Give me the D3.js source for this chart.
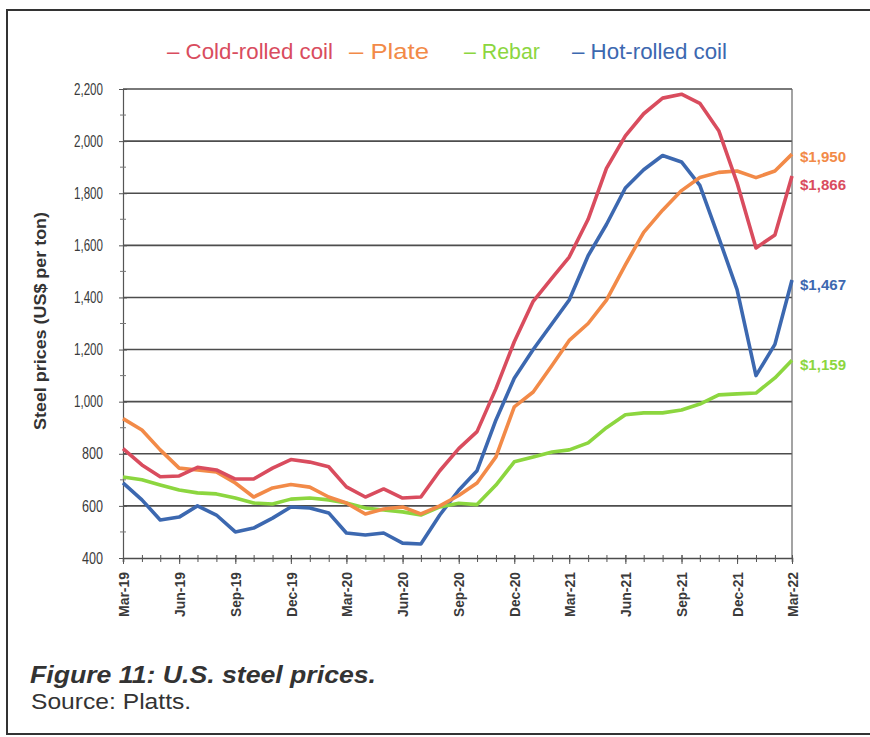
<!doctype html>
<html>
  <head>
    <script src="https://cdnjs.cloudflare.com/ajax/libs/d3/7.8.5/d3.min.js"></script>
  <style>
    body { margin: 0; background: #fff; }
    svg { display: block; }
    .domain { stroke: #555; }
  </style>
  </head>
  <body>
    <svg id="chart" width="870" height="737"></svg>
    <script>
      // monthly prices, Mar-19 .. Mar-22 (US$ per ton)
      var months = d3.timeMonth.range(new Date(2019, 2, 1), new Date(2022, 3, 1));
      var coldRolled = [820, 757, 712, 715, 748, 738, 703, 703, 745, 778, 768, 750, 673, 634, 665, 630, 634, 735, 820,
        885, 1050, 1230, 1385, 1475, 1555, 1700, 1895, 2020, 2105, 2165, 2180, 2145, 2040, 1840, 1590, 1640, 1866];
      var plate = [935, 891, 815, 745, 738, 730, 688, 634, 669, 682, 672, 634, 611, 569, 588, 596, 569, 600, 640,
        688, 788, 980, 1037, 1140, 1235, 1300, 1390, 1525, 1650, 1735, 1810, 1860, 1880, 1885, 1860, 1885, 1950];
      var rebar = [711, 700, 680, 661, 650, 646, 630, 611, 607, 626, 630, 623, 611, 592, 584, 577, 565, 596, 610,
        605, 680, 769, 788, 807, 815, 842, 900, 950, 957, 957, 968, 991, 1026, 1030, 1033, 1091, 1159];
      var hotRolled = [688, 623, 546, 557, 600, 565, 500, 515, 553, 596, 592, 573, 496, 488, 496, 457, 454, 565, 660,
        735, 930, 1090, 1200, 1300, 1390, 1560, 1680, 1820, 1890, 1945, 1920, 1830, 1630, 1430, 1100, 1220, 1467];
      var seriesNames = ["Cold-rolled coil", "Plate", "Rebar", "Hot-rolled coil"];
      var yTicks = [400, 600, 800, 1000, 1200, 1400, 1600, 1800, 2000, 2200];

      var colors = {"Cold-rolled coil": "#d94c5e", "Plate": "#f28a48", "Rebar": "#8cd63f", "Hot-rolled coil": "#3c68b0"};
      var series = [
        {name: "Cold-rolled coil", values: coldRolled},
        {name: "Plate", values: plate},
        {name: "Rebar", values: rebar},
        {name: "Hot-rolled coil", values: hotRolled}
      ];
      // draw order: blue under, then green, orange, red
      var drawOrder = ["Hot-rolled coil", "Rebar", "Plate", "Cold-rolled coil"];

      var svg = d3.select("#chart");
      var narrow = "'Liberation Sans Narrow', 'Arial Narrow', 'Liberation Sans', Arial, sans-serif";

      // scanned page frame
      svg.append("rect").attr("x", 7).attr("y", 10).attr("width", 880).attr("height", 724)
        .attr("fill", "none").attr("stroke", "#333").attr("stroke-width", 2);

      var xScale = d3.scaleTime().domain([months[0], months[months.length - 1]]).range([123, 792]);
      var yScale = d3.scaleLinear().domain([400, 2200]).range([558, 89]);

      // gridlines
      svg.append("g").selectAll("line.grid")
        .data(yTicks.slice(1))
        .enter()
        .append("line")
          .attr("class", "grid")
          .attr("x1", 123).attr("x2", 792)
          .attr("y1", d => yScale(d)).attr("y2", d => yScale(d))
          .style("stroke", "#4d4d4d").style("stroke-width", 1.6);

      // right border of plot
      svg.append("line").attr("x1", 792).attr("x2", 792).attr("y1", yScale(2200)).attr("y2", yScale(400))
        .style("stroke", "#666").style("stroke-width", 1.2);

      // y axis
      var yAxis = d3.axisLeft(yScale).tickValues(yTicks).tickSize(4).tickPadding(16).tickFormat(d3.format(","));
      var yG = svg.append("g").attr("transform", "translate(123,0)").call(yAxis);
      yG.selectAll(".tick line").attr("x2", 4).attr("x1", -4).style("stroke", "#555");
      yG.selectAll("text")
        .attr("textLength", d => d >= 1000 ? 29 : 21).attr("lengthAdjust", "spacingAndGlyphs")
        .style("font-family", narrow).style("font-size", "16px").style("fill", "#3a3a3a");
      yG.select(".domain").style("stroke-width", 1.2);
      svg.append("g").selectAll("line.minor")
        .data(d3.range(500, 2200, 200))
        .enter()
        .append("line")
          .attr("x1", 120).attr("x2", 126)
          .attr("y1", d => yScale(d)).attr("y2", d => yScale(d))
          .style("stroke", "#777");

      // x axis: monthly minor ticks, quarterly labels
      var xMinor = d3.axisBottom(xScale).tickValues(months).tickSize(4).tickFormat("");
      var xmG = svg.append("g").attr("transform", "translate(0," + yScale(400) + ")").call(xMinor);
      xmG.selectAll(".tick line").attr("y1", -3).style("stroke", "#555");
      xmG.select(".domain").style("stroke-width", 1.6).style("stroke", "#4d4d4d");

      var quarters = months.filter((d, i) => i % 3 === 0);
      var xAxis = d3.axisBottom(xScale).tickValues(quarters).tickSize(6).tickFormat(d3.timeFormat("%b-%y"));
      var xG = svg.append("g").attr("transform", "translate(0," + yScale(400) + ")").call(xAxis);
      xG.select(".domain").remove();
      xG.selectAll(".tick line").attr("y1", -3).style("stroke", "#555");
      xG.selectAll("text")
        .attr("transform", "rotate(-90)")
        .attr("x", -14).attr("y", 0).attr("dy", "0.35em")
        .attr("textLength", 45).attr("lengthAdjust", "spacingAndGlyphs")
        .style("text-anchor", "end")
        .style("font-family", narrow).style("font-size", "15px").style("font-weight", "bold").style("fill", "#3a3a3a");

      // lines
      var line = d3.line()
        .x((d, i) => xScale(months[i]))
        .y(d => yScale(d));

      svg.append("g").selectAll("path.series")
        .data(drawOrder.map(n => series.find(s => s.name === n)))
        .enter()
        .append("path")
          .attr("class", "series")
          .attr("d", d => line(d.values))
          .style("fill", "none")
          .style("stroke", d => colors[d.name])
          .style("stroke-width", 3.6)
          .style("stroke-linejoin", "round");

      // end value labels
      var labelShift = {"Cold-rolled coil": 9, "Plate": 3, "Rebar": 5, "Hot-rolled coil": 5};
      svg.append("g").selectAll("text.end")
        .data(series)
        .enter()
        .append("text")
          .attr("x", 800)
          .attr("y", d => yScale(d.values[d.values.length - 1]) + labelShift[d.name])
          .attr("dy", "0.35em")
          .text(d => "$" + d3.format(",")(d.values[d.values.length - 1]))
          .attr("textLength", 46).attr("lengthAdjust", "spacingAndGlyphs")
          .style("font-family", narrow).style("font-size", "15px").style("font-weight", "bold")
          .style("fill", d => colors[d.name]);

      // legend
      var legendX = [167, 349, 464, 572];
      var legendW = [166, 80, 76, 155];
      svg.append("g").selectAll("text.legend")
        .data(seriesNames)
        .enter()
        .append("text")
          .attr("x", (d, i) => legendX[i])
          .attr("y", 59)
          .text(d => "\u2013 " + d)
          .attr("textLength", (d, i) => legendW[i]).attr("lengthAdjust", "spacingAndGlyphs")
          .style("font-family", narrow).style("font-size", "22px")
          .style("fill", d => colors[d]);

      // y title
      svg.append("text")
        .attr("transform", "translate(46,321) rotate(-90)")
        .attr("text-anchor", "middle")
        .text("Steel prices (US$ per ton)")
        .attr("textLength", 218).attr("lengthAdjust", "spacingAndGlyphs")
        .style("font-family", narrow).style("font-size", "16px").style("font-weight", "bold").style("fill", "#333");

      // caption
      svg.append("text").attr("x", 30).attr("y", 683)
        .text("Figure 11: U.S. steel prices.")
        .attr("textLength", 346).attr("lengthAdjust", "spacingAndGlyphs")
        .style("font-family", narrow).style("font-size", "24px")
        .style("font-weight", "bold").style("font-style", "italic").style("fill", "#333");
      svg.append("text").attr("transform", "translate(31,709) scale(1.12,1)")
        .text("Source: Platts.")
        .style("font-family", narrow).style("font-size", "22px").style("fill", "#333");
    </script>
  </body>
</html>
